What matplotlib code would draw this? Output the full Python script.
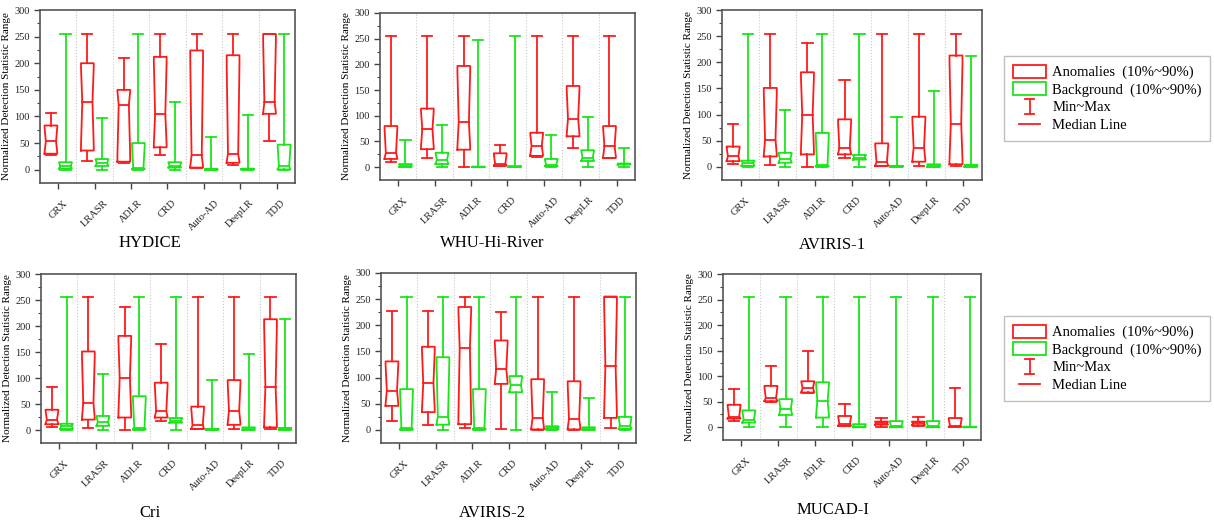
import numpy as np
import matplotlib
matplotlib.use('Agg')
import matplotlib.pyplot as plt
from matplotlib.lines import Line2D
from matplotlib.patches import Rectangle
from matplotlib.legend_handler import HandlerBase

plt.rcParams['font.family'] = 'serif'
plt.rcParams['font.serif'] = ['Liberation Serif', 'DejaVu Serif']

methods = ['GRX', 'LRASR', 'ADLR', 'CRD', 'Auto-AD', 'DeepLR', 'TDD']
datasets = ['HYDICE', 'WHU-Hi-River', 'AVIRIS-1', 'Cri', 'AVIRIS-2', 'MUCAD-I']

# each row: min, 10%, median, 90%, max  (one row per method)
hydice_anom = [[27, 30, 53, 83, 106], [17, 36, 127, 200, 255], [12, 15, 122, 150, 210],
               [28, 42, 104, 212, 255], [3, 4, 27, 224, 255], [8, 13, 30, 215, 255],
               [54, 105, 127, 255, 255]]
hydice_back = [[0, 2, 6, 14, 255], [0, 7, 12, 20, 97], [0, 1, 4, 50, 255],
               [0, 4, 7, 14, 128], [0, 0, 0.5, 1, 61], [0, 0.5, 1, 2, 103],
               [0, 0.5, 6, 47, 255]]

whu_anom = [[10, 16, 28, 80, 255], [17, 35, 74, 114, 255], [0, 34, 88, 197, 255],
            [3, 3, 6, 27, 43], [19, 22, 41, 67, 255], [37, 60, 94, 158, 255],
            [17, 18, 41, 80, 255]]
whu_back = [[0, 1, 3, 6, 53], [0, 6, 14, 28, 83], [0, 0, 0.5, 1, 247],
            [0, 0.5, 1, 2, 255], [0, 2, 5, 16, 62], [0, 12, 18, 33, 97],
            [0, 5, 6, 7, 37]]

aviris1_anom = [[6, 11, 20, 39, 82], [4, 20, 52, 151, 255], [0, 24, 100, 181, 236],
                [17, 24, 36, 91, 166], [1, 2, 9, 45, 255], [1, 10, 37, 96, 255],
                [1, 5, 83, 213, 255]]
aviris1_back = [[0, 2, 7, 12, 255], [0, 8, 15, 27, 108], [0, 1, 4, 65, 255],
                [0, 14, 18, 23, 255], [0, 0.5, 1, 2, 96], [0, 0.5, 2, 5, 146],
                [0, 0.5, 2, 4, 213]]

cri_anom = [[6, 11, 20, 39, 82], [4, 20, 52, 151, 255], [0, 24, 100, 181, 236],
            [17, 24, 36, 91, 166], [1, 2, 9, 45, 255], [1, 10, 37, 96, 255],
            [1, 5, 83, 213, 255]]
cri_back = [[0, 2, 7, 12, 255], [0, 8, 15, 27, 108], [0, 1, 4, 65, 255],
            [0, 14, 18, 23, 255], [0, 0.5, 1, 2, 96], [0, 0.5, 2, 5, 146],
            [0, 0.5, 2, 4, 213]]

aviris2_anom = [[17, 46, 75, 131, 228], [9, 34, 89, 159, 228], [3, 11, 156, 235, 255],
                [1, 88, 116, 171, 225], [0.5, 1, 23, 97, 255], [0.5, 1, 21, 93, 255],
                [3, 23, 122, 255, 255]]
aviris2_back = [[0, 1, 4, 78, 255], [0, 10, 25, 139, 255], [0, 1, 4, 78, 255],
                [0, 72, 85, 103, 255], [0, 1, 3, 7, 72], [0, 0.5, 2, 5, 61],
                [0, 2, 8, 25, 255]]

mucad_anom = [[12, 17, 21, 44, 75], [50, 51, 57, 81, 119], [67, 68, 77, 90, 150],
              [2, 3, 6, 22, 46], [1, 5, 8, 11, 19], [3, 4, 8, 11, 20],
              [0, 1, 2, 18, 77]]
mucad_back = [[0, 9, 15, 33, 255], [0, 24, 36, 55, 255], [0, 19, 52, 88, 255],
              [0, 0, 1, 6, 255], [0, 0, 2, 12, 255], [0, 0, 2, 12, 255],
              [0, 0, 0.5, 1, 255]]

anom_sets = [hydice_anom, whu_anom, aviris1_anom, cri_anom, aviris2_anom, mucad_anom]
back_sets = [hydice_back, whu_back, aviris1_back, cri_back, aviris2_back, mucad_back]

RED = '#ff1a1a'
GREEN = '#19e619'
W, H = 1214, 523

# axes rectangles in pixels: left, top, right, bottom
panel_px = [(40, 10, 295, 183), (380, 13, 635, 180), (722, 10, 982, 180),
            (41, 274, 296, 443), (381, 273, 636, 443), (723, 274, 981, 440)]
title_px = [(150, 243), (492, 243), (832, 245), (150, 513), (492, 513), (833, 510)]


def draw_box(ax, x, s, color, w=0.35, lw=1.3):
    lo, q1, med, q3, hi = s
    half = w / 2
    inset = 0.1 * w
    ci_lo = med - 0.9 * (med - q1)
    ci_hi = med + 0.9 * (q3 - med)
    xs = [x - half, x + half, x + half, x + half - inset, x + half, x + half,
          x - half, x - half, x - half + inset, x - half, x - half]
    ys = [q1, q1, ci_lo, med, ci_hi, q3, q3, ci_hi, med, ci_lo, q1]
    ax.plot(xs, ys, color=color, lw=lw)
    ax.plot([x - half + inset, x + half - inset], [med, med], color=color, lw=lw)
    cap = 0.4 * w
    ax.plot([x, x], [q3, hi], color=color, lw=lw)
    ax.plot([x, x], [lo, q1], color=color, lw=lw)
    ax.plot([x - cap, x + cap], [hi, hi], color=color, lw=lw)
    ax.plot([x - cap, x + cap], [lo, lo], color=color, lw=lw)


fig = plt.figure(figsize=(W / 100, H / 100), dpi=100)

for k in range(6):
    l, t, r, b = panel_px[k]
    ax = fig.add_axes([l / W, 1 - b / H, (r - l) / W, (b - t) / H])
    pos = np.arange(1, len(methods) + 1)
    for i in range(len(methods)):
        draw_box(ax, pos[i] - 0.2, anom_sets[k][i], RED)
        draw_box(ax, pos[i] + 0.2, back_sets[k][i], GREEN)
    for sep in pos[:-1] + 0.5:
        ax.axvline(sep, color='#c8c8c8', ls=':', lw=0.8, zorder=0)
    ax.set_xlim(0.5, len(methods) + 0.5)
    ax.set_ylim(-25, 300)
    ax.set_yticks(np.arange(0, 301, 50))
    ax.set_yticks(np.arange(25, 300, 50), minor=True)
    ax.set_xticks(pos)
    ax.set_xticklabels(methods, rotation=45, ha='center', fontsize=7.5)
    ax.tick_params(axis='y', which='major', labelsize=7.5, length=4, width=1, direction='out', colors='#444444', labelcolor='#222222')
    ax.tick_params(axis='y', which='minor', length=2, width=0.8, direction='out', colors='#444444')
    ax.tick_params(axis='x', length=4, width=1, pad=7, direction='out', colors='#444444', labelcolor='#222222')
    for sp in ax.spines.values():
        sp.set_color('#555555')
        sp.set_linewidth(1.2)
    ax.set_ylabel('Normalized Detection Statistic Range', fontsize=8, labelpad=2)
    tx, ty = title_px[k]
    fig.text(tx / W, 1 - ty / H, datasets[k], ha='center', va='center', fontsize=12)


class IBeamHandler(HandlerBase):
    def create_artists(self, legend, orig_handle, xdescent, ydescent, width, height, fontsize, trans):
        cx = -xdescent + width / 2
        y0 = -ydescent - 0.1 * height
        y1 = -ydescent + 1.1 * height
        cw = 0.12 * width
        arts = [Line2D([cx, cx], [y0, y1]), Line2D([cx - cw, cx + cw], [y0, y0]),
                Line2D([cx - cw, cx + cw], [y1, y1])]
        for a in arts:
            a.set_color(RED)
            a.set_linewidth(1.3)
            a.set_transform(trans)
        return arts


class ShortLineHandler(HandlerBase):
    def create_artists(self, legend, orig_handle, xdescent, ydescent, width, height, fontsize, trans):
        cx = -xdescent + width / 2
        cy = -ydescent + height / 2
        ln = Line2D([cx - 0.3 * width, cx + 0.3 * width], [cy, cy], color=RED, lw=1.3)
        ln.set_transform(trans)
        return [ln]


labels = ['Anomalies  (10%~90%)', 'Background  (10%~90%)', 'Min~Max', 'Median Line']
for ly in [56, 316]:
    h_anom = Rectangle((0, 0), 1, 1, fc='none', ec=RED, lw=1.3)
    h_back = Rectangle((0, 0), 1, 1, fc='none', ec=GREEN, lw=1.3)
    h_mm = Line2D([], [], color=RED)
    h_med = Line2D([], [], color=RED)
    leg = fig.legend([h_anom, h_back, h_mm, h_med], labels, loc='upper left',
                     bbox_to_anchor=(1004 / W, 1 - ly / H), borderaxespad=0,
                     frameon=True, fancybox=False, edgecolor='#b0b0b0', fontsize=10.5,
                     handlelength=2.3, handleheight=1.0, handletextpad=0.4,
                     labelspacing=0.2, borderpad=0.6,
                     handler_map={h_mm: IBeamHandler(), h_med: ShortLineHandler()})
    leg.get_frame().set_linewidth(1.0)

fig.savefig('out.png', dpi=100)
